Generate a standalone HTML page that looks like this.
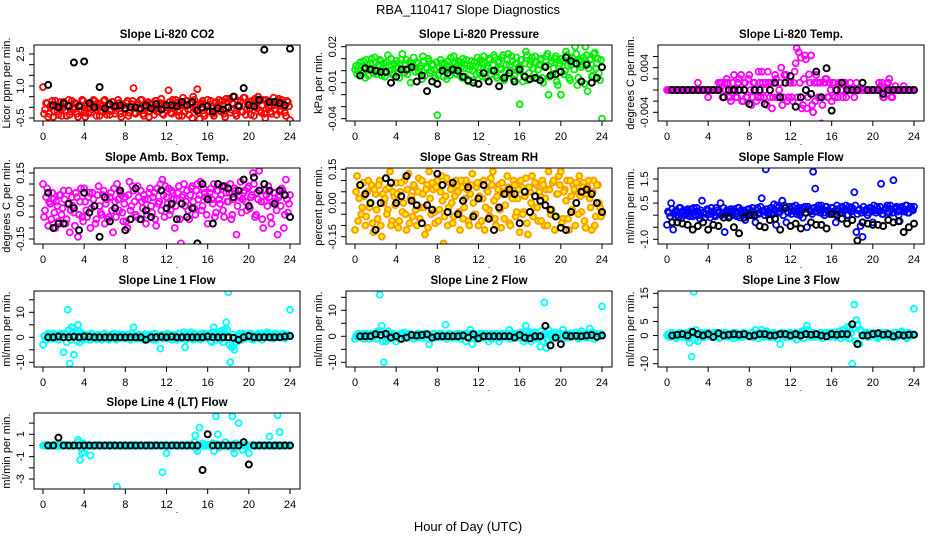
<!DOCTYPE html>
<html><head><meta charset="utf-8"><style>
html,body{margin:0;padding:0;background:#fff;}
svg{display:block;font-family:"Liberation Sans",Arial,sans-serif;}
</style></head><body>
<svg id="chart" width="936" height="540" viewBox="0 0 936 540" xmlns="http://www.w3.org/2000/svg">
<rect width="936" height="540" fill="#fff"/>
<text x="468" y="14" text-anchor="middle" font-size="13">RBA_110417  Slope Diagnostics</text>
<text x="468" y="531" text-anchor="middle" font-size="13">Hour of Day (UTC)</text>
</svg>
<script>
const co2Color = [0.95,-0.1,0.2,-0.3,0.1,-0.45,0.3,-0.2,0.0,-0.4,0.25,-0.15,0.1,-0.35,0.3,-0.1,0.15,-0.45,0.05,0.35,-0.25,0.1,-0.3,0.2,-0.1,0.3,-0.4,0.0,0.15,-0.2,0.35,-0.35,0.1,-0.15,0.25,-0.3,0.05,0.2,-0.45,0.1,-0.1,0.3,-0.25,0.15,0.9,-0.3,0.2,-0.1,0.35,-0.4,0.05,0.25,-0.2,0.1,-0.35,0.3,-0.05,0.2,-0.3,0.15,0.0,0.8,-0.25,0.35,-0.1,0.2,-0.4,0.1,0.45,-0.2,0.3,-0.35,0.15,0.5,-0.1,0.85,-0.55,0.2,-0.3,0.1,0.35,-0.2,0.05,-0.4,0.25,0.1,-0.15,0.3,-0.3,0.4,0.0,-0.25,0.2,0.5,-0.4,0.1,0.3,-0.2,0.45,-0.1,0.25,-0.35,0.15,0.4,-0.05,0.3,-0.25,0.35,-0.5,0.2,0.1,-0.3,0.45,-0.1,0.3,-0.2,0.35,0.0,-0.4,0.25,-0.6];
const co2Color2 = [-0.3,0.2,-0.45,0.05,0.3,-0.2,0.1,-0.35,0.25,-0.05,0.15,-0.4,0.35,-0.2,0.0,0.2,-0.3,0.1,-0.15,0.3,-0.45,0.15,0.0,-0.25,0.35,-0.1,0.2,-0.4,0.05,0.3,-0.2,0.1,-0.35,0.25,0.0,-0.15,0.35,-0.3,0.15,-0.05,0.2,-0.4,0.05,0.3,-0.25,0.1,-0.1,0.35,-0.3,0.0,0.2,-0.45,0.15,-0.1,0.3,-0.2,0.05,0.4,-0.35,0.1,-0.15,0.25,-0.3,0.0,0.35,-0.2,0.15,-0.4,0.1,0.3,-0.1,0.2,-0.5,0.35,0.0,-0.25,0.15,0.3,-0.4,0.05,-0.15,0.3,-0.3,0.2,0.0,0.35,-0.2,0.1,-0.45,0.25,0.4,-0.1,0.15,-0.3,0.3,0.05,-0.2,0.45,-0.35,0.15,-0.05,0.3,-0.4,0.2,0.5,-0.15,0.1,-0.3,0.35,0.0,-0.2,0.25,0.1,-0.35,0.4,-0.1,0.2,-0.25,0.3,0.05];
const co2Black = [1.05,0.1,0.0,0.2,0.05,2.1,0.05,2.15,0.2,0.0,0.95,-0.05,0.15,0.05,0.1,-0.05,0.0,0.0,-0.05,0.1,-0.05,0.15,-0.1,0.1,0.1,0.05,0.25,0.1,0.25,-0.15,0.0,0.05,-0.2,-0.05,-0.1,0.0,0.5,0.05,0.9,0.1,0.05,0.35,2.7,0.25,0.25,0.2,0.1,2.75];
const presColor = [0.001,-0.003,0.004,0.0,0.008,-0.006,0.005,0.002,0.01,-0.002,0.007,0.0,0.009,-0.004,0.006,0.003,0.013,0.0,-0.003,0.005,0.008,0.002,0.006,0.014,-0.002,0.009,0.001,-0.01,0.005,0.003,0.007,-0.001,0.004,0.012,-0.004,0.002,0.008,0.0,0.005,-0.006,-0.037,0.003,0.006,-0.005,0.001,0.008,-0.004,0.003,0.012,-0.002,0.005,0.007,-0.006,0.002,0.009,-0.009,0.004,0.0,0.007,-0.003,0.003,0.009,-0.005,0.006,0.002,0.01,-0.003,0.005,0.011,-0.006,0.008,0.001,0.013,-0.005,0.009,0.004,0.012,-0.007,0.006,0.0,-0.028,0.009,-0.004,0.016,-0.008,0.005,0.011,-0.003,0.007,0.001,0.009,-0.006,0.004,0.012,-0.02,0.006,-0.003,0.01,-0.009,0.004,-0.02,0.008,0.0,0.013,-0.006,0.005,0.01,0.02,-0.012,0.007,0.003,0.011,0.02,-0.017,0.009,-0.005,0.014,0.002,0.01,-0.008,-0.04];
const presColor2 = [0.004,0.0,0.007,-0.002,0.003,0.009,-0.004,0.006,0.001,0.011,-0.003,0.005,0.008,0.002,-0.005,0.007,0.004,0.01,-0.002,0.006,0.003,-0.006,0.009,0.001,0.005,-0.003,0.007,0.004,0.011,-0.001,0.006,0.002,-0.007,0.008,0.003,0.01,-0.002,0.005,0.001,0.007,-0.004,0.009,0.002,0.006,-0.007,0.004,0.011,0.0,0.006,-0.003,0.008,0.003,0.01,-0.005,0.005,0.001,0.008,-0.008,0.004,0.011,-0.002,0.006,0.012,-0.006,0.004,0.009,0.0,0.013,-0.004,0.007,0.002,0.011,-0.008,0.005,0.014,0.0,0.008,-0.004,0.011,0.003,0.009,-0.009,0.006,0.013,-0.002,0.008,0.002,0.012,-0.006,0.005,0.01,-0.01,0.004,0.014,-0.005,0.008,0.002,0.012,-0.012,0.006,0.01,-0.003,0.016,0.004,-0.008,0.011,0.001,0.014,-0.006,0.009,0.005,-0.011,0.013,0.002,0.01,-0.004,0.015,0.006,-0.002,0.009];
const presBlack = [-0.004,0.002,0.001,0.0,-0.001,-0.001,-0.01,-0.005,0.001,0.001,0.003,-0.009,-0.004,-0.017,-0.009,-0.011,0.0,-0.002,0.001,0.0,-0.005,-0.008,-0.01,-0.011,-0.002,-0.009,0.0,-0.013,-0.006,-0.002,-0.009,0.001,-0.005,-0.007,-0.006,-0.008,0.003,-0.004,-0.003,-0.001,0.011,0.008,0.006,-0.009,0.005,-0.01,-0.006,0.003];
const tempColor = [0,0,0,0,0,0,0,0,0,0,0,0,0,0,0,0.0013,0,0,0,0,-0.0013,0,0,0,0,0.0013,0.0013,-0.0013,0.0013,0.002,-0.0013,-0.002,0.0013,0,-0.0013,0.002,0.0027,-0.002,0.0013,-0.0013,0.0027,-0.0027,0.0013,0,-0.0013,0.0013,0.0033,-0.0013,0.0013,0.0033,-0.0013,-0.0033,0.0013,0.002,-0.0013,0.0013,-0.0027,0.0027,0.0027,-0.0013,0.0013,-0.002,0.0033,0.0075,0.0068,0.0058,-0.0027,0.0062,-0.0033,0.0028,0.0062,-0.004,-0.002,0.0013,-0.0013,-0.006,0.0013,0.002,-0.0013,0.0013,-0.002,0.0013,0,-0.0013,0.0013,0,0.0013,-0.0013,0,0.0013,0,-0.0013,0.0013,0,0,0,0,0,0,0,0,0,0,0.0013,0.0007,-0.0013,0,0.0013,0.002,-0.0013,0,0.0007,0,0,0,0.0007,0,0,0,0,0];
const tempColor2 = [0,0,0,0,0,0,0,0,0,0,0,0,0,0,0,0,0,0,0,0,0,0,0,0,0,0,0.0013,-0.0013,0,0.0013,-0.0013,0,0.0027,-0.0013,0.0013,0,-0.002,0.0013,-0.0013,0.002,0,-0.0013,0.0013,-0.002,0.0033,-0.0013,0.0013,0,-0.0027,0.0013,0.0013,-0.0013,0.0027,-0.0013,0,0.004,-0.0013,0.0013,-0.002,0.0013,-0.0013,0.0013,0.0048,-0.0013,0.0013,-0.0033,0.002,0.0055,-0.0013,0.0013,-0.0027,0.0013,0.0027,-0.0013,0.0013,-0.0027,0.0013,0.002,-0.0013,0,0.0013,-0.0013,0,0.0013,0,-0.0013,0.0013,0,0,0,0,0,0,0,0,0,0,0,0,0,0,0,0,0,0.0013,-0.0013,0,0.0013,0,-0.0013,0,0,0,0,0,0,0,0,0,0];
const tempBlack = [0,0,0,0,0,0,0,0,0,0,-0.0013,0,0,0,0,-0.0025,0,0,-0.0025,0,0.0013,-0.0013,0.0013,0.0025,-0.003,-0.0013,0,-0.0007,0.0033,-0.0013,0.0039,-0.0037,0,0.0013,0,0,0,0.0013,0,0,0,-0.0007,0,0,0,0,0,0];
const boxColor = [0.1,-0.02,0.08,0.02,-0.06,0.03,-0.1,0.0,0.05,-0.04,0.07,-0.08,0.01,-0.12,0.04,-0.03,0.06,-0.14,0.02,-0.05,0.08,-0.02,0.04,-0.1,0.06,0.0,-0.06,0.09,-0.03,0.05,-0.08,0.03,-0.05,0.06,-0.12,0.02,0.1,-0.02,0.05,-0.07,0.04,-0.1,0.11,0.0,0.07,-0.04,0.09,-0.06,0.02,0.05,-0.08,0.03,0.08,-0.03,0.06,-0.09,0.01,0.1,0.12,-0.05,0.04,0.08,-0.02,0.06,-0.1,0.03,0.09,-0.17,0.05,0.0,0.07,-0.06,0.08,0.02,-0.04,0.1,0.05,-0.02,0.08,0.04,-0.08,0.06,0.03,0.1,-0.03,0.07,0.01,0.09,-0.05,0.06,0.02,0.1,-0.04,0.08,-0.13,0.05,0.11,0.03,0.07,-0.02,0.09,0.04,0.15,-0.05,0.06,0.16,0.02,-0.1,0.07,0.0,0.04,-0.08,0.06,0.02,-0.13,0.05,0.08,-0.1,0.12,-0.03,0.05];
const boxColor2 = [-0.05,0.04,-0.09,0.01,0.06,-0.03,0.02,-0.07,0.05,-0.01,0.03,-0.06,0.07,-0.02,0.0,-0.09,0.04,-0.04,0.08,-0.07,0.02,-0.05,0.06,-0.01,0.03,-0.08,0.05,0.0,-0.04,0.07,0.01,-0.06,0.04,-0.02,0.08,-0.05,0.03,0.06,-0.03,0.01,-0.07,0.05,-0.02,0.09,0.02,-0.05,0.04,0.07,-0.01,0.03,-0.04,0.06,0.0,0.04,-0.06,0.08,0.02,-0.02,0.05,0.09,0.01,-0.04,0.07,0.03,0.0,0.06,-0.06,0.04,0.1,0.02,-0.02,0.05,0.09,-0.01,0.07,0.03,0.11,0.0,0.06,-0.04,0.04,0.08,0.01,-0.05,0.07,0.03,0.05,-0.02,0.09,0.02,0.06,-0.06,0.03,0.07,0.0,0.04,-0.03,0.06,0.02,0.08,-0.01,0.05,0.1,-0.04,0.03,0.07,-0.06,0.02,0.05,0.09,-0.05,0.02,0.06,-0.02,0.04,0.0,0.07,-0.04,0.03,0.01];
const boxBlack = [0.06,-0.1,-0.08,-0.08,0.01,-0.01,-0.11,0.06,-0.03,0.0,-0.14,0.04,-0.07,-0.01,0.07,-0.11,-0.06,0.08,-0.06,-0.02,-0.05,-0.19,0.07,-0.01,0.01,-0.06,0.01,-0.05,-0.01,-0.17,0.1,0.03,-0.08,0.1,0.09,0.08,0.04,0.07,0.12,0.0,0.13,0.07,0.1,0.07,0.01,0.07,0.05,-0.05];
const rhColor = [-0.12,0.12,0.02,-0.05,0.09,-0.1,0.05,-0.02,0.08,-0.13,0.04,-0.07,0.1,-0.15,0.0,0.06,-0.03,0.14,-0.08,0.03,0.09,-0.11,0.05,-0.04,0.1,-0.12,0.13,0.02,-0.06,0.07,-0.1,0.11,-0.02,0.04,-0.14,0.08,0.14,-0.05,0.06,-0.09,0.1,-0.03,0.12,-0.18,0.03,-0.1,0.09,0.0,-0.06,0.1,0.05,-0.12,0.07,-0.02,0.1,-0.08,0.04,0.13,-0.05,0.07,-0.1,0.09,0.02,-0.12,0.06,-0.03,0.11,0.14,-0.07,0.03,0.08,-0.11,0.05,-0.01,0.12,-0.09,0.04,0.1,-0.06,0.02,-0.13,0.07,-0.04,0.11,-0.14,0.05,0.12,-0.02,0.08,-0.08,0.03,0.1,-0.1,0.06,0.14,-0.05,0.09,-0.12,0.04,0.12,0.14,-0.07,0.06,0.1,-0.12,0.03,0.08,-0.1,0.05,0.12,-0.04,0.09,-0.11,0.07,0.02,-0.12,0.1,-0.06,0.08,-0.02,-0.05];
const rhColor2 = [0.05,-0.08,0.08,-0.02,0.03,-0.06,0.1,0.0,-0.09,0.06,-0.03,0.08,-0.1,0.04,0.02,-0.05,0.07,-0.1,0.05,-0.01,0.04,-0.08,0.09,0.0,-0.05,0.06,-0.09,0.03,0.08,-0.03,0.05,-0.07,0.1,-0.02,0.06,-0.11,0.02,0.09,-0.04,0.07,-0.08,0.05,0.01,-0.06,0.11,-0.02,0.06,-0.09,0.03,0.08,-0.04,0.1,-0.07,0.02,0.06,-0.1,0.08,0.0,-0.05,0.09,0.03,-0.08,0.1,-0.02,0.05,-0.06,0.08,0.01,-0.1,0.06,-0.03,0.09,-0.07,0.04,0.07,-0.1,0.02,0.08,-0.04,0.06,0.1,-0.05,0.03,-0.09,0.07,0.0,-0.06,0.09,-0.02,0.05,-0.08,0.08,0.02,-0.1,0.06,-0.03,0.1,-0.06,0.04,0.08,-0.09,0.05,0.01,-0.07,0.1,-0.03,0.06,0.09,-0.05,0.03,0.07,-0.08,0.04,0.1,-0.02,0.05,-0.1,0.08,0.0,-0.06];
const rhBlack = [0.08,0.04,0.0,-0.12,0.0,0.11,0.09,0.0,0.03,0.12,0.01,-0.01,-0.09,-0.01,-0.03,0.13,0.08,-0.04,0.09,-0.05,0.01,0.07,-0.06,0.02,0.08,-0.07,-0.12,-0.02,0.04,0.06,0.04,-0.09,0.05,-0.04,0.03,0.01,-0.01,-0.03,-0.06,-0.11,-0.12,-0.04,0.0,0.05,0.06,0.04,0.0,-0.04];
const flowColor = [-0.4,0.1,0.5,-0.6,0.15,0.0,0.3,-0.1,0.2,0.05,0.25,-0.05,0.1,0.3,0.0,0.15,-0.15,0.6,0.1,0.05,0.2,-0.1,0.15,0.0,0.3,0.1,0.5,0.05,-0.7,0.2,0.1,0.25,0.0,0.15,-0.05,0.3,0.2,0.05,-0.2,0.1,0.25,0.0,0.15,-0.3,0.3,0.1,0.7,0.2,1.9,0.05,0.2,0.1,0.45,-0.4,0.3,0.15,0.6,0.4,-0.3,0.1,0.25,0.35,0.15,0.05,0.3,0.2,-0.1,0.35,-0.5,0.25,0.15,1.8,1.1,0.3,0.2,0.4,0.1,0.35,0.2,0.05,0.3,0.15,-0.3,0.25,0.1,0.35,0.2,0.4,0.0,0.25,0.3,0.95,-0.7,0.2,-0.45,-0.9,0.15,0.25,0.1,0.3,-0.3,0.2,0.35,0.15,1.3,0.05,0.25,0.4,0.1,0.25,1.45,0.3,0.15,-0.25,0.35,0.2,0.4,0.1,0.3,0.25,0.35];
const flowColor2 = [0.15,-0.05,0.25,0.05,0.2,-0.1,0.3,0.1,0.0,0.2,0.05,0.25,-0.05,0.15,0.3,0.0,0.2,0.1,-0.1,0.25,0.05,0.3,0.1,-0.05,0.2,0.15,0.0,0.3,0.05,0.2,-0.05,0.15,0.25,0.05,0.3,-0.1,0.1,0.2,0.0,0.25,0.1,0.3,-0.05,0.2,0.05,0.35,0.15,0.0,0.25,0.1,0.3,0.05,0.2,0.4,0.1,0.25,0.0,0.3,0.15,0.35,0.05,0.2,0.4,0.15,0.0,0.3,0.25,0.1,0.35,0.2,0.05,0.3,0.15,0.4,0.1,0.25,0.0,0.35,0.2,0.15,0.3,0.05,0.4,0.2,0.1,0.3,0.25,0.0,0.35,0.15,0.2,0.4,0.05,0.25,0.1,0.35,0.2,0.0,0.3,0.15,0.4,0.1,0.25,0.35,0.05,0.2,0.3,0.15,0.4,0.1,0.25,0.35,0.0,0.2,0.3,0.15,0.4,0.1,0.35,0.2];
const flowBlack = [-0.3,-0.3,-0.35,-0.4,-0.6,-0.45,-0.3,-0.6,-0.4,-0.45,-0.1,-0.1,-0.5,-0.75,-0.1,0.0,0.0,-0.45,-0.5,-0.2,-0.15,-0.6,0.3,-0.45,-0.35,-0.55,0.1,-0.3,-0.4,-0.4,-0.55,0.05,0.0,-0.15,-0.35,-0.2,-1.05,-0.3,-0.35,-0.4,-0.4,-0.45,-0.2,-0.3,-0.25,-0.7,-0.5,-0.35];
const line1Color = [-3,0.5,-1,1,0,1.5,-0.5,1,0,1.5,-6,1,11,-10.5,4,-7,2,5,-2,1.5,-0.5,1,0,-1,1.2,0.5,-0.8,1,0,-0.5,1.5,0,-1,1,0.5,0,-0.5,1.2,0,1,-0.5,1,0,1.5,4,0.5,-0.5,1,0,-1,0.5,1,-0.5,1.2,0,-1,0.5,-4.5,1,0,1,-0.5,0.5,1,0,-1,1.5,-0.5,0.5,-4,1.5,0,2,-1,0.5,1,-0.5,1.5,0,1,-0.5,1.5,-2,4,1,0.5,-1,1.5,3,6,18,-10,-4,-5,-2,1,0.5,1.5,-0.5,1,0,1.5,-1,0.5,1,-0.5,1.5,0,1,2,0,1,-0.5,1.5,0.5,0,1,1.2,0.5,1,11];
const line1Color2 = [0.5,-1,1.5,0,-0.5,1,0.5,-1,1,0,1.5,-2,3,-1,2,1,-1.5,2.5,0,-1,1,0.5,-1,1.5,0,-0.5,1,0.5,-1,1.2,0,0.5,-0.5,1,1.5,-1,0.5,0,1,-0.5,1,0,-1,1.5,0.5,-0.5,1,0,0.5,1.2,-0.5,1,0,-1,1.5,0.5,0,1,-0.5,0.5,1.5,0,-1,1,0.5,-0.5,1.5,0,2,-1,0.5,1,-0.5,1.5,0,1,-1,0.5,1.5,0,1,-1.5,2,0.5,-1,1.5,2.5,-2,1,3,-3,-4,1,-2,0.5,1.5,-1,1,0.5,0,1.5,-0.5,1,0,1.5,0.5,-1,1,0.5,1.5,0,-0.5,1.5,0.5,1,0,1.5,-0.5,1,0.5];
const line1Black = [0,0,0.3,0,0,0.2,0,0.3,0.2,0,0,0,0,0,0,0,0,0,0,-1,0,0,0.2,0,0.2,0,0,0,0,0,0,0.3,0,0,0,0,-0.2,-1,0,0.5,0,0,0,0,0,0,0.3,0.5];
const line2Color = [-1,0.5,0,-0.5,1,0,0.5,-1,1,0,0.5,2,16,4,-10,-2,2,1,-0.5,0,-2,0.5,-1,1,1.5,0,-0.5,1,0,0.5,-0.5,1,0,-0.5,1,0.5,-3,0,1,-0.5,0.5,0,1,-0.5,4.5,0,1,-0.5,0.5,0,-0.5,1,0,0.5,-2,0,2.5,-3,1,0,0.5,-0.5,1,0,0.5,-2,1,-0.5,0,1,-2,0.5,0,1,-0.5,2.5,0,1,-0.5,0,0.5,1,-2,4,0,1.5,-1,0.5,1,-0.5,-4,0.5,13,-4.5,2.5,0,-1,1.5,0,-0.5,1,2.5,0,-0.5,1,0.5,0,1.5,-0.5,0,2,0,1,-0.5,3,0.5,-1,1,0,0.5,11.5];
const line2Color2 = [0,1,-0.5,0.5,-1,1,0,0.5,-0.5,1,-1,1.5,2,-2,1,0.5,-1,0,1,-0.5,0.5,-1,1,0,0.5,-0.5,1,0,-1,0.5,1,0,-0.5,1,0.5,-1,0.5,0,1,0,-0.5,1,0.5,0,-1,1,0,0.5,-0.5,1,0,-1,0.5,1,0,-0.5,1,0,0.5,-1,1,0,-0.5,1,0.5,0,-1,0.5,1,0,-0.5,1,0,0.5,1,-1,0.5,0,1,-0.5,1.5,0,-1,2,1,-2,0.5,1.5,-1,0,2,-2,1,-1.5,0.5,1,-0.5,0,1,0.5,-1,0.5,1,0,-0.5,1,0.5,0,-1,1,0,0.5,-0.5,1,0,1.5,-1,0.5,0,1];
const line2Black = [0,0,0,0.8,0.5,1,-0.5,0,-1,-0.5,0.5,0.3,0.5,0.8,-0.5,0,0,0,0,0,0.3,-0.5,0.8,-0.8,0,0,0,0,0,0,-0.5,0.5,-0.5,-0.8,0,0,4,-3.5,-0.5,-3,0.3,0,0.2,0,0.3,0.5,-0.2,0.3];
const line3Color = [0,-0.5,1,0,0.5,-0.5,1,0,0.5,-0.5,1,-2.5,-7.5,15.5,2,-2,1,0,-0.5,1,0.5,0,-0.5,1,0,0.5,-0.5,1,0,0.5,0,-0.5,1,0,0.5,-0.5,0,1,0,0.5,0,1,-0.5,2,0.5,0,2,-0.5,1,0,0.5,-0.5,1,0,0.5,-3,1,0,0.5,-0.5,1,0,0.5,-1.5,0,1,0.5,2,3.5,0,-0.5,1,0,0.5,-0.5,1,0,0.5,0,1,0,0.5,-0.5,1,1.5,0,2,-0.5,1,3,-10,11,5.5,-3,2,0,0.5,1,-0.5,0,1,0.5,0,-0.5,1,0.5,0,1,0,0.5,-0.5,1,0,0.5,1.5,0,-0.5,1,0.5,0,9.5];
const line3Color2 = [0.5,-0.5,1,0,-1,0.5,1,-0.5,0,1,-1,1.5,1,-1.5,0.5,0,1,-0.5,0.5,0,1,-0.5,0,0.5,1,-1,0.5,0,1,-0.5,0.5,0,-1,1,0,0.5,-0.5,1,0,0.5,-0.5,1,0,0.5,-1,1,0.5,0,1.5,-0.5,0.5,1,0,-1,0.5,0,1,-0.5,0.5,1,0,-0.5,1,0.5,0,1.5,-1,0.5,2,0,1,-0.5,0.5,0,1,-1,0.5,1,0,-0.5,1,0.5,0,1.5,-1,2,0.5,3,-1,1,2.5,-2,4,-3,1.5,0,1,-0.5,0.5,1,0,0.5,-1,1,0.5,0,1,-0.5,0.5,0,1,-0.5,0.5,0,1,0.5,-1,1,0,0.5];
const line3Black = [0,0.3,0.5,0,1.3,0.5,0,0.5,-0.5,0.8,0,0.3,0.5,0.3,0.5,-0.2,0,0.5,0.5,0,0,0.5,0.5,0,0.5,0,0.5,0.3,0.5,0,-0.3,0.5,0.3,0.5,0.5,4,-3,0,0,0.5,0.8,0.3,0.5,-0.3,0.3,0,0.3,0.3];
const line4Color = [0,0,0,0,0,0,0,0,0.2,0,0,0,0,0,0,0,0,0.5,-1.3,-0.7,-0.6,0,0,-0.9,0,0,0,0,0,0,0,0,0,0,0,0,-3.7,0,0,0,0,0,0,0,0,0,0,0,0,0,0,0,0,0,0,0,0,0,-2.4,0,-0.7,0,0,0,0,0,0,0,0,0,0,0,0,0,0.9,-0.5,1.6,0,0,0,0,0,0,-0.5,2.6,1.0,0,0,0,0,0,0,2.6,-0.7,0,2.0,0,-0.4,0,0,-0.7,0,0,0,0,0,0,0,0,0,0.8,0,0,0,2.7,1.2,0,0,0,0,0];
const line4Color2 = [0,0.05,0,-0.05,0,0.05,0,-0.05,0.1,0,0,0.05,0,-0.05,0,0.05,0,0.3,-0.2,0.2,-0.05,0,0.05,0,-0.05,0,0.05,0,-0.05,0,0.05,0,-0.05,0,0.05,0,0,-0.05,0,0.05,0,-0.05,0,0.05,0,-0.05,0,0.05,0,-0.05,0,0.05,0,-0.05,0,0.05,0,-0.05,0,0.05,0,-0.05,0,0.05,0,-0.05,0,0.05,0,-0.05,0.05,0,-0.05,0.3,-0.2,0.05,0,0.2,-0.05,0,0.05,-0.05,0.2,0,0.1,-0.2,0.05,0,0.3,-0.1,0,0.05,-0.3,0.2,0,-0.05,0.1,0,0.05,-0.05,0,0.05,0,-0.05,0,0.05,0,-0.05,0,0.05,0,-0.05,0,0.05,0,-0.05,0,0.05,0,0];
const line4Black = [0,0,0.7,0,0,0,0,0,0,0,0,0,0,0,0,0,0,0,0,0,0,0,0,0,0,0,0,0,0,0,-2.2,1.0,0,0,0,0,0,0,0.3,-1.7,0,0,0,0,0,0,0,0];
const xTicks = [0,4,8,12,16,20,24];
const colorStep = 0.2;   // hours between coloured samples
const color2Offset = 0.1; // second coloured sample offset (hours)
const blackStep = 0.5;   // hours between black samples

const NS = "http://www.w3.org/2000/svg";
const svg = document.getElementById('chart');
function mk(tag, attrs, parent){const e=document.createElementNS(NS,tag);for(const k in attrs)e.setAttribute(k,attrs[k]);(parent||svg).appendChild(e);return e;}

const colX=[34,346,658], rowY=[45,168,291,413], W=266, H=76;
const panels=[
 {key:'co2',title:'Slope Li-820 CO2',yl:'Licor ppm per min.',c:co2Color,c2:co2Color2,b:co2Black,col:'#ff0000',r:0,k:0,v1:-0.5,p1:118,v2:2.5,p2:54,ticks:[-0.5,0,0.5,1,1.5,2,2.5],labs:[-0.5,1,2.5],dec:1},
 {key:'pressure',title:'Slope Li-820 Pressure',yl:'kPa per min.',c:presColor,c2:presColor2,b:presBlack,col:'#00ee00',r:0,k:1,v1:0.02,p1:46.7,v2:-0.04,p2:118.7,ticks:[0.02,0.01,0,-0.01,-0.02,-0.03,-0.04],labs:[0.02,-0.01,-0.04],dec:2},
 {key:'temp',title:'Slope Li-820 Temp.',yl:'degrees C per min.',c:tempColor,c2:tempColor2,b:tempBlack,col:'#ff00ff',r:0,k:2,v1:0,p1:90,v2:0.004,p2:67.7,ticks:[0.006,0.004,0.002,0,-0.002,-0.004],labs:[0.004,-0.004],dec:3},
 {key:'ambbox',title:'Slope Amb. Box Temp.',yl:'degrees C per min.',c:boxColor,c2:boxColor2,b:boxBlack,col:'#ff00ff',r:1,k:0,v1:0.15,p1:173,v2:-0.15,p2:239,ticks:[-0.15,-0.1,-0.05,0,0.05,0.1,0.15],labs:[-0.15,0,0.15],dec:2},
 {key:'rh',title:'Slope Gas Stream RH',yl:'percent per min.',c:rhColor,c2:rhColor2,b:rhBlack,col:'#ff9a00',fill:'#ffee00',r:1,k:1,v1:0.15,p1:169.3,v2:-0.15,p2:236.7,ticks:[-0.15,-0.1,-0.05,0,0.05,0.1,0.15],labs:[-0.15,0,0.15],dec:2},
 {key:'sampleflow',title:'Slope Sample Flow',yl:'ml/min per min.',c:flowColor,c2:flowColor2,b:flowBlack,col:'#0000ff',r:1,k:2,v1:1.5,p1:179,v2:-1,p2:239.3,ticks:[-1,-0.5,0,0.5,1,1.5],labs:[-1,0.5,1.5],dec:1},
 {key:'line1',title:'Slope Line 1 Flow',yl:'ml/min per min.',c:line1Color,c2:line1Color2,b:line1Black,col:'#00ffff',r:2,k:0,v1:10,p1:312.3,v2:-10,p2:362.3,ticks:[-10,-5,0,5,10,15],labs:[-10,0,10],dec:0},
 {key:'line2',title:'Slope Line 2 Flow',yl:'ml/min per min.',c:line2Color,c2:line2Color2,b:line2Black,col:'#00ffff',r:2,k:1,v1:10,p1:310.3,v2:-10,p2:362.3,ticks:[-10,-5,0,5,10,15],labs:[-10,0,10],dec:0},
 {key:'line3',title:'Slope Line 3 Flow',yl:'ml/min per min.',c:line3Color,c2:line3Color2,b:line3Black,col:'#00ffff',r:2,k:2,v1:15,p1:293.3,v2:-10,p2:363.7,ticks:[-10,-5,0,5,10,15],labs:[-10,0,5,15],dec:0},
 {key:'line4',title:'Slope Line 4 (LT) Flow',yl:'ml/min per min.',c:line4Color,c2:line4Color2,b:line4Black,col:'#00ffff',r:3,k:0,v1:1,p1:434.3,v2:-3,p2:479,ticks:[-3,-2,-1,0,1,2],labs:[-3,-1,1],dec:0}
];

panels.forEach(p=>{
  const L=colX[p.k], T=rowY[p.r];
  const xs=h=>L+9+h*(247/24);
  const ys=v=>p.p1+(v-p.v1)*(p.p2-p.p1)/(p.v2-p.v1);
  const g=mk('g',{});
  
  
  const ti=mk('text',{x:L+W/2,y:T-7,'text-anchor':'middle','font-size':11.5,'font-weight':'bold'},g);
  ti.textContent=p.title;
  
  
  const clip=mk('clipPath',{id:'clip'+p.key},g);
  mk('rect',{x:L,y:T,width:W,height:H},clip);
  const pts=mk('g',{'clip-path':'url(#clip'+p.key+')'},g);
  
  
  p.c.forEach((v,i)=>{
    const c=mk('circle',{cx:xs(i*colorStep),cy:ys(v),r:3,fill:p.fill||'none',stroke:p.col,'stroke-width':1.8},pts);
    
    
  });
  p.c2.forEach((v,i)=>{
    const c=mk('circle',{cx:xs(i*colorStep+color2Offset),cy:ys(v),r:3,fill:p.fill||'none',stroke:p.col,'stroke-width':1.8},pts);
    
    
  });
  p.b.forEach((v,i)=>{
    const c=mk('circle',{cx:xs((i+1)*blackStep),cy:ys(v),r:3,fill:'none',stroke:'#000','stroke-width':2},pts);
    
    
  });
  const box=mk('rect',{x:L,y:T,width:W,height:H,fill:'none',stroke:'#000','stroke-width':1},g);
  
  
  const xa=mk('g',{},g);
  
  
  xTicks.forEach(t=>{
    mk('line',{x1:xs(t),x2:xs(t),y1:T+H,y2:T+H+5,stroke:'#000'},xa);
    const tx=mk('text',{x:xs(t),y:T+H+19,'text-anchor':'middle','font-size':11},xa);
    tx.textContent=t;
  });
  const dot=mk('text',{x:L+W/2+10,y:T+H+24,'text-anchor':'middle','font-size':9},xa);
  dot.textContent='.';
  const ya=mk('g',{},g);
  
  
  p.ticks.forEach(t=>{ mk('line',{x1:L-5,x2:L,y1:ys(t),y2:ys(t),stroke:'#000'},ya); });
  p.labs.forEach(t=>{
    const y=ys(t), x=L-10;
    const tx=mk('text',{x:x,y:y,'text-anchor':'middle','font-size':11,transform:'rotate(-90 '+x+' '+y+')'},ya);
    tx.textContent=t.toFixed(p.dec);
  });
  const yt=mk('text',{x:L-24,y:T+H/2,'text-anchor':'middle','font-size':11,transform:'rotate(-90 '+(L-24)+' '+(T+H/2)+')'},g);
  yt.textContent=p.yl;
  
  
});
</script>
</body></html>
